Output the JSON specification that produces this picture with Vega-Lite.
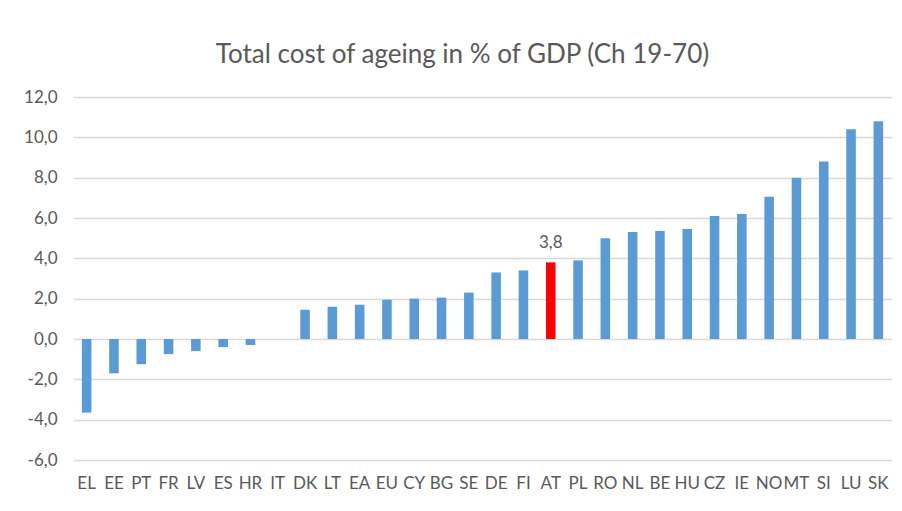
{
  "$schema": "https://vega.github.io/schema/vega-lite/v6.json",
  "autosize": "none",
  "width": 819,
  "height": 363,
  "padding": {"left": 73, "top": 97, "right": 10, "bottom": 51},
  "background": "white",
  "title": {
    "text": "Total cost of ageing in % of GDP (Ch 19-70)",
    "font": "Lato",
    "fontSize": 26,
    "fontWeight": "normal",
    "color": "#595959",
    "anchor": "middle",
    "baseline": "alphabetic",
    "offset": -1,
    "dx": -20
  },
  "config": {
    "view": {"stroke": null},
    "font": "Lato"
  },
  "data": {
    "values": [
      {"country": "EL", "value": -3.65},
      {"country": "EE", "value": -1.7},
      {"country": "PT", "value": -1.25},
      {"country": "FR", "value": -0.75},
      {"country": "LV", "value": -0.6},
      {"country": "ES", "value": -0.4},
      {"country": "HR", "value": -0.3},
      {"country": "IT", "value": 0.0},
      {"country": "DK", "value": 1.45},
      {"country": "LT", "value": 1.6},
      {"country": "EA", "value": 1.7},
      {"country": "EU", "value": 1.95},
      {"country": "CY", "value": 2.0},
      {"country": "BG", "value": 2.05},
      {"country": "SE", "value": 2.3},
      {"country": "DE", "value": 3.3},
      {"country": "FI", "value": 3.4},
      {"country": "AT", "value": 3.8},
      {"country": "PL", "value": 3.9},
      {"country": "RO", "value": 5.0},
      {"country": "NL", "value": 5.3},
      {"country": "BE", "value": 5.35},
      {"country": "HU", "value": 5.45},
      {"country": "CZ", "value": 6.1},
      {"country": "IE", "value": 6.2},
      {"country": "NO", "value": 7.05},
      {"country": "MT", "value": 8.0},
      {"country": "SI", "value": 8.8},
      {"country": "LU", "value": 10.4},
      {"country": "SK", "value": 10.8}
    ]
  },
  "encoding": {
    "x": {
      "field": "country",
      "type": "nominal",
      "sort": null,
      "scale": {"paddingInner": 0.65, "paddingOuter": 0.325},
      "axis": {
        "title": null,
        "labelAngle": 0,
        "domain": false,
        "ticks": false,
        "labelFont": "Lato",
        "labelFontSize": 17,
        "labelColor": "#595959",
        "labelBaseline": "top",
        "labelPadding": 15
      }
    },
    "y": {
      "field": "value",
      "type": "quantitative",
      "scale": {"domain": [-6, 12], "nice": false, "zero": false},
      "axis": {
        "title": null,
        "values": [-6, -4, -2, 0, 2, 4, 6, 8, 10, 12],
        "labelExpr": "replace(replace(format(datum.value, '.1f'), '.', ','), '\u2212', '-')",
        "domain": false,
        "ticks": false,
        "grid": true,
        "gridColor": "#d9d9d9",
        "gridWidth": 1.5,
        "labelFont": "Lato",
        "labelFontSize": 17,
        "labelColor": "#595959",
        "labelPadding": 16
      }
    }
  },
  "layer": [
    {
      "mark": {"type": "bar"},
      "encoding": {
        "color": {
          "condition": {"test": "datum.country === 'AT'", "value": "#ff0000"},
          "value": "#5b9bd5"
        }
      }
    },
    {
      "transform": [
        {"filter": "datum.country === 'AT'"},
        {"calculate": "replace(format(datum.value, '.1f'), '.', ',')", "as": "label"}
      ],
      "mark": {
        "type": "text",
        "baseline": "bottom",
        "dy": -10,
        "font": "Lato",
        "fontSize": 17,
        "color": "#595959"
      },
      "encoding": {
        "text": {"field": "label"}
      }
    }
  ]
}
